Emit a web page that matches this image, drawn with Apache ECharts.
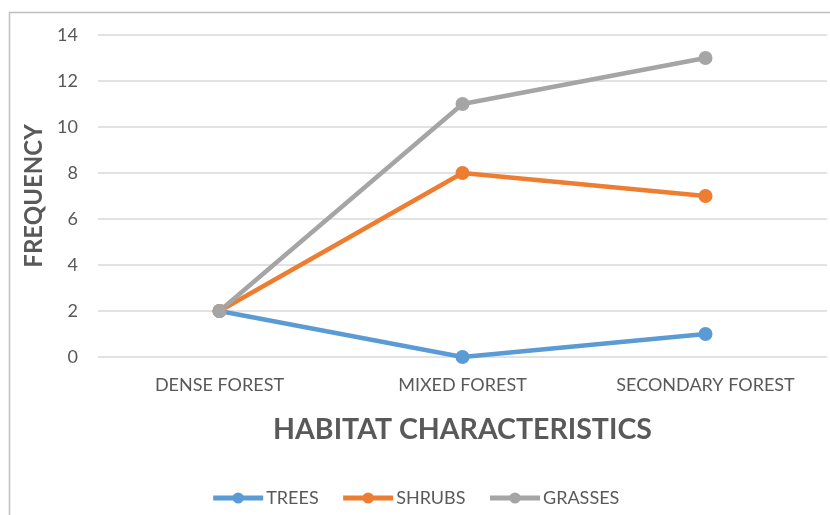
<!DOCTYPE html>
<html>
<head>
<meta charset="utf-8">
<script src="https://cdn.jsdelivr.net/npm/echarts@6/dist/echarts.min.js"></script>
<style>
  html, body { margin: 0; padding: 0; background: #fff; }
  #chart { width: 830px; height: 515px; }
</style>
</head>
<body>
<div id="chart"></div>
<script>
// habitat categories and counts per vegetation type
var habitats = ['DENSE FOREST', 'MIXED FOREST', 'SECONDARY FOREST'];
var trees = [2, 0, 1];
var shrubs = [2, 8, 7];
var grasses = [2, 11, 13];

var font = 'Lato, "Open Sans", sans-serif';

var chart = echarts.init(document.getElementById('chart'));

function line(name, data, color) {
  return {
    name: name,
    type: 'line',
    data: data,
    symbol: 'circle',
    symbolSize: 14,
    lineStyle: { width: 4.5, color: color },
    itemStyle: { color: color },
    emphasis: { disabled: true }
  };
}

chart.setOption({
  animation: false,
  color: ['#5B9BD5', '#ED7D31', '#A5A5A5'],
  graphic: [{
    type: 'rect',
    shape: { x: 9.5, y: 12.5, width: 900, height: 600 },
    style: { fill: 'none', stroke: '#c0c0c0', lineWidth: 1.5 },
    silent: true
  }],
  grid: { left: 98, right: 3, top: 35, height: 322 },
  legend: {
    bottom: 3,
    left: 'center',
    itemWidth: 50,
    itemHeight: 14,
    itemGap: 22,
    lineStyle: { width: 5 },
    textStyle: { fontFamily: font, fontSize: 18, color: '#595959', padding: [0, 0, 0, -2] },
    data: ['TREES', 'SHRUBS', 'GRASSES']
  },
  xAxis: {
    type: 'category',
    data: habitats,
    boundaryGap: true,
    axisLine: { show: false },
    axisTick: { show: false },
    axisLabel: { fontFamily: font, fontSize: 18, color: '#595959', margin: 19 },
    name: 'HABITAT CHARACTERISTICS',
    nameLocation: 'middle',
    nameGap: 58,
    nameTextStyle: { fontFamily: font, fontSize: 28.5, fontWeight: 'bold', color: '#595959' }
  },
  yAxis: {
    type: 'value',
    min: 0,
    max: 14,
    interval: 2,
    axisLine: { show: false },
    axisTick: { show: false },
    splitLine: { lineStyle: { color: '#d9d9d9', width: 1.5 } },
    axisLabel: { fontFamily: font, fontSize: 18, color: '#595959', margin: 20 },
    name: 'FREQUENCY',
    nameLocation: 'middle',
    nameGap: 52,
    nameRotate: 90,
    nameTextStyle: { fontFamily: font, fontSize: 24, fontWeight: 'bold', color: '#595959' }
  },
  series: [
    line('TREES', trees, '#5B9BD5'),
    line('SHRUBS', shrubs, '#ED7D31'),
    line('GRASSES', grasses, '#A5A5A5')
  ]
});
</script>
</body>
</html>
